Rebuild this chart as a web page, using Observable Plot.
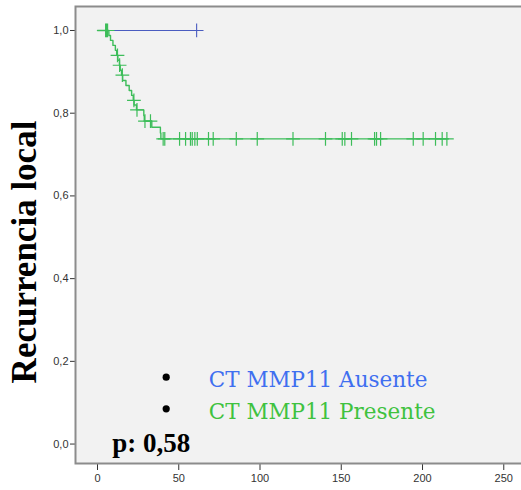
<!DOCTYPE html>
<html>
<head>
<meta charset="utf-8">
<script src="https://cdn.jsdelivr.net/npm/d3@7"></script>
<script src="https://cdn.jsdelivr.net/npm/@observablehq/plot@0.6"></script>
<style>
  html, body { margin: 0; padding: 0; background: #fff; overflow: hidden; }
  #chart { width: 521px; height: 490px; overflow: hidden; }
  #chart svg { max-width: none !important; width: 540px; height: 490px; }
</style>
</head>
<body>
<div id="chart"></div>
<script>
// ---- data ----
const xTicks = [0, 50, 100, 150, 200, 250];
const yTicks = [0, 0.2, 0.4, 0.6, 0.8, 1.0];

// Green group (CT MMP11 Presente): event times and survival after each event
const greenEventTimes = [7.0, 8.0, 9.5, 11.0, 11.8, 12.5, 13.5, 14.0, 14.8, 15.5, 17.5, 19.5, 21.0, 22.0, 22.5, 24.0, 28.5, 28.8, 33.4, 38.7, 39.0];
const greenSurvival   = [0.988, 0.976, 0.964, 0.952, 0.940, 0.928, 0.916, 0.904, 0.892, 0.879, 0.867, 0.855, 0.843, 0.831, 0.820, 0.808, 0.794, 0.781, 0.766, 0.752, 0.738];
const greenCensored = [5.0, 5.5, 6.2, 12.3, 13.6, 15.3, 22.4, 24.3, 29.2, 32.6, 40.4, 41.4, 50.5, 54.2, 57.2, 58.3, 59.9, 61.4, 68.3, 71.2, 85.4, 98.3, 120.3, 140.3, 150.6, 152.2, 156.3, 170.5, 171.7, 174.2, 194.3, 200.4, 208.0, 212.1, 215.0];

// Blue group (CT MMP11 Ausente)
const blueEventTimes = [];
const blueSurvival = [];
const blueCensored = [61.0];

const legendLabels = ["CT MMP11 Ausente", "CT MMP11 Presente"];
const pValueText = "p: 0,58";
const yTitle = "Recurrencia local";

// ---- styles ----
const blueLine = "#4a5cc0";
const greenLine = "#3dbd5a";
const legendColors = ["#3f6ff0", "#3fc23f"];

function kmSteps(times, surv, censored) {
  const pts = [{t: 0, s: 1}];
  times.forEach((t, i) => pts.push({t, s: surv[i]}));
  const last = Math.max(times.length ? times[times.length - 1] : 0, censored.length ? censored[censored.length - 1] : 0);
  pts.push({t: last, s: pts[pts.length - 1].s});
  return pts;
}
function levelAt(times, surv, t) {
  let s = 1;
  times.forEach((et, i) => { if (et <= t) s = surv[i]; });
  return s;
}
const greenPts = kmSteps(greenEventTimes, greenSurvival, greenCensored);
const bluePts = kmSteps(blueEventTimes, blueSurvival, blueCensored);
const greenCens = greenCensored.map(t => ({t, s: levelAt(greenEventTimes, greenSurvival, t)}));
const blueCens = blueCensored.map(t => ({t, s: levelAt(blueEventTimes, blueSurvival, t)}));

const fmt = d => d.toFixed(1).replace(".", ",");

const marks = [
  Plot.frame({fill: "#f2f2f2"}),
  Plot.line(bluePts, {x: "t", y: "s", curve: "step-after", stroke: blueLine, strokeWidth: 1.1}),
  Plot.dot(blueCens, {x: "t", y: "s", symbol: "plus", r: 4.5, stroke: blueLine, strokeWidth: 1.1}),
  Plot.line(greenPts, {x: "t", y: "s", curve: "step-after", stroke: greenLine, strokeWidth: 1.4}),
  Plot.dot(greenCens, {x: "t", y: "s", symbol: "plus", r: 4.5, stroke: greenLine, strokeWidth: 1.2}),
  Plot.frame({stroke: "#8c8c8c", strokeWidth: 2}),
  // y title
  Plot.text([yTitle], {text: d => d, frameAnchor: "left", dx: -51, dy: 17, rotate: -90, lineAnchor: "middle",
    fontFamily: "Liberation Serif", fontWeight: "bold", fontSize: 35, fill: "#000", textAnchor: "middle"}),
  // legend bullets and labels
  ...legendLabels.map((lab, i) => Plot.dot([lab], {frameAnchor: "top-left", dx: 90.7, dy: 370.7 + i * 31.6, r: 3.6, fill: "#000"})),
  ...legendLabels.map((lab, i) => Plot.text([lab], {text: d => d, frameAnchor: "top-left", dx: 133.3, dy: 373.8 + i * 31.6,
    textAnchor: "start", lineAnchor: "middle", fontFamily: "DejaVu Serif", fontSize: 21.5, fill: legendColors[i]})),
  Plot.text([pValueText], {text: d => d, frameAnchor: "top-left", dx: 36.7, dy: 437.1, textAnchor: "start", lineAnchor: "middle",
    fontFamily: "Liberation Serif", fontWeight: "bold", fontSize: 27, fill: "#000"})
];

const chart = Plot.plot({
  width: 540,
  height: 490,
  marginLeft: 75,
  marginRight: 0,
  marginTop: 6,
  marginBottom: 27,
  style: {fontFamily: "Liberation Sans", fontSize: "11px", color: "#333", background: "#fff", overflow: "visible", maxWidth: "none"},
  x: {domain: [-13.54, 272.6], ticks: xTicks, tickSize: 7, tickPadding: 4, label: null, tickFormat: d => String(d)},
  y: {domain: [-0.047, 1.058], ticks: yTicks, tickSize: 5, tickPadding: 2, label: null, tickFormat: fmt},
  marks
});
document.getElementById("chart").appendChild(chart);
</script>
</body>
</html>
